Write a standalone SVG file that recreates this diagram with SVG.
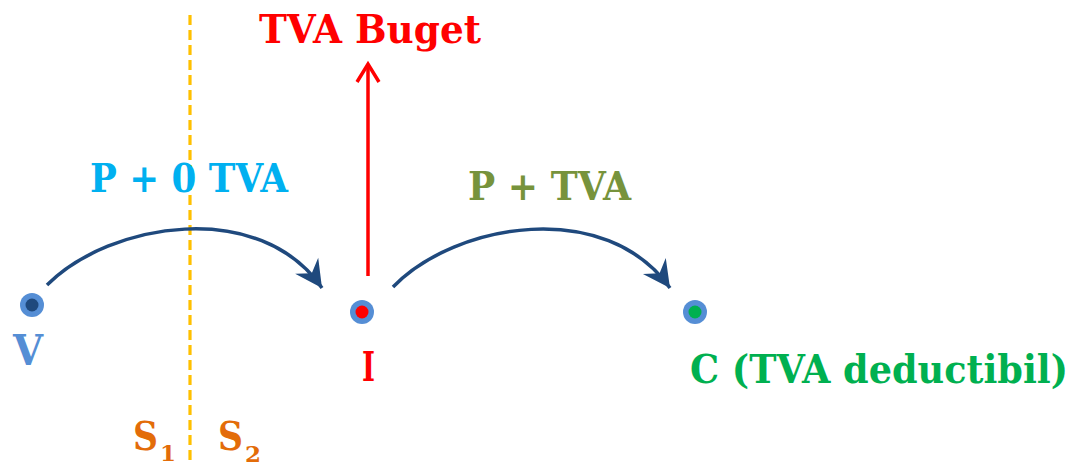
<svg xmlns="http://www.w3.org/2000/svg" width="1077" height="465" viewBox="0 0 1077 465">
<defs>
<style>
text{font-family:"DejaVu Serif","Liberation Serif",serif;font-weight:bold}
.arc{fill:none;stroke:#1F497D;stroke-width:3.5}
.ring{fill:#558ED5}
</style>
<marker id="ah" markerUnits="userSpaceOnUse" markerWidth="40" markerHeight="40" refX="32" refY="20" orient="auto" viewBox="0 0 40 40">
<path d="M32,20 L5,6 L14,20 L5,34 Z" fill="#1F497D"/>
</marker>
</defs>
<rect width="1077" height="465" fill="#fff"/>
<g id="divider">
<line x1="190" y1="15" x2="190" y2="465" stroke="#FFC000" stroke-width="3.2" stroke-dasharray="10,5"/>
<text x="133" y="450" font-size="39" fill="#E36C09" textLength="25" lengthAdjust="spacingAndGlyphs">S</text>
<text x="160" y="461" font-size="23" fill="#E36C09">1</text>
<text x="218" y="450" font-size="39" fill="#E36C09" textLength="25" lengthAdjust="spacingAndGlyphs">S</text>
<text x="245" y="462" font-size="23" fill="#E36C09">2</text>
</g>
<g id="connectors">
<path class="arc" d="M47,285 C110,222 260,198 322,288" marker-end="url(#ah)"/>
<path class="arc" d="M393,287 C456,222 606,198 670,288" marker-end="url(#ah)"/>
<line x1="368" y1="276" x2="368" y2="64" stroke="#FF0000" stroke-width="3.5"/>
<polyline points="357,82 368,64 379,82" fill="none" stroke="#FF0000" stroke-width="3.5"/>
</g>
<g id="node-V">
<circle class="ring" cx="32" cy="305" r="12"/>
<circle cx="32" cy="305" r="6.5" fill="#1F497D"/>
<text x="13" y="365" font-size="42" fill="#558ED5" textLength="30" lengthAdjust="spacingAndGlyphs">V</text>
</g>
<g id="node-I">
<circle class="ring" cx="362" cy="312" r="12"/>
<circle cx="362" cy="312" r="6.5" fill="#FF0000"/>
<text x="362" y="381" font-size="41" fill="#FF0000" textLength="13" lengthAdjust="spacingAndGlyphs">I</text>
</g>
<g id="node-C">
<circle class="ring" cx="695" cy="312" r="12"/>
<circle cx="695" cy="312" r="6.5" fill="#00B050"/>
<text x="690" y="383" font-size="40" fill="#00B050" textLength="378" lengthAdjust="spacingAndGlyphs">C (TVA deductibil)</text>
</g>
<g id="label-buget">
<text x="259" y="43" font-size="40" fill="#FF0000" textLength="222" lengthAdjust="spacingAndGlyphs">TVA Buget</text>
</g>
<g id="label-p0">
<text x="90" y="192" font-size="40" fill="#00B0F0" textLength="198" lengthAdjust="spacingAndGlyphs">P + 0 TVA</text>
</g>
<g id="label-p">
<text x="468" y="200" font-size="40" fill="#77933C" textLength="163" lengthAdjust="spacingAndGlyphs">P + TVA</text>
</g>
</svg>
